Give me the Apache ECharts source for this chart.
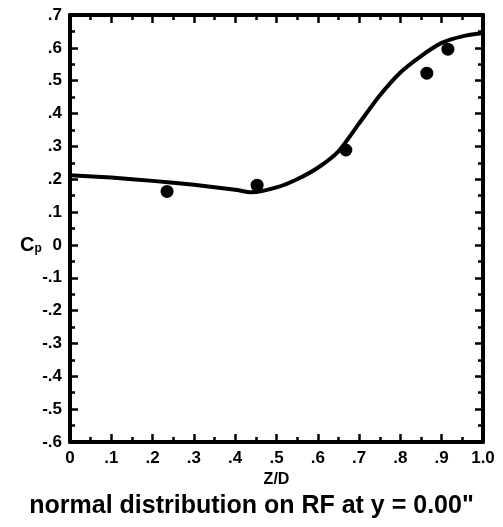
<!DOCTYPE html>
<html>
<head>
<meta charset="utf-8">
<script src="https://cdn.jsdelivr.net/npm/echarts@6/dist/echarts.min.js"></script>
<style>
  html, body { margin: 0; padding: 0; background: #fff; }
  #chart { width: 503px; height: 527px; }
</style>
</head>
<body>
<div id="chart"></div>
<script>
// measured points
var pointX = [0.235, 0.453, 0.668, 0.864, 0.915];
var pointY = [0.163, 0.182, 0.289, 0.523, 0.596];

// predicted curve
var curveX = [0, 0.1, 0.2, 0.3, 0.4, 0.44, 0.5, 0.55, 0.6, 0.65, 0.7, 0.75, 0.8, 0.85, 0.9, 0.95, 1.0];
var curveY = [0.212, 0.205, 0.195, 0.183, 0.168, 0.160, 0.175, 0.200, 0.235, 0.285, 0.37, 0.455, 0.525, 0.575, 0.615, 0.635, 0.645];

var fontFam = '"Liberation Sans", Arial, sans-serif';

function fmtY(v) {
    v = Math.round(v * 10);
    if (v === 0) return '0';
    return (v < 0 ? '-' : '') + '.' + Math.abs(v);
}
function fmtX(v) {
    v = Math.round(v * 10);
    if (v === 0) return '0';
    if (v === 10) return '1.0';
    return '.' + v;
}

var myChart = echarts.init(document.getElementById('chart'));

var axisLine = { show: true, onZero: false, lineStyle: { color: '#000', width: 4 } };
var tick = { show: true, inside: true, length: 8, lineStyle: { color: '#000', width: 2.5 } };
var minor = { show: true, splitNumber: 2, length: 5, lineStyle: { color: '#000', width: 2.5 } };

option = {
    animation: false,
    grid: { left: 70, top: 15, right: 20, bottom: 85 },
    title: {
        text: 'normal distribution on RF at y = 0.00"',
        left: 'center',
        top: 489,
        textStyle: { fontFamily: fontFam, fontSize: 25, fontWeight: 'bold', color: '#000' }
    },
    graphic: [{
        type: 'text',
        left: 20,
        top: 235,
        style: {
            text: '{a|C}{b|p}',
            rich: {
                a: { fontFamily: fontFam, fontSize: 20, fontWeight: 'bold', fill: '#000' },
                b: { fontFamily: fontFam, fontSize: 12, fontWeight: 'bold', fill: '#000', verticalAlign: 'bottom', padding: [8, 0, 0, 0] }
            }
        }
    }],
    xAxis: [{
        type: 'value', min: 0, max: 1, interval: 0.1,
        axisLine: axisLine, axisTick: tick, minorTick: minor,
        splitLine: { show: false },
        axisLabel: { formatter: fmtX, color: '#000', fontFamily: fontFam, fontWeight: 'bold', fontSize: 17, margin: 8 },
        name: 'Z/D', nameLocation: 'middle', nameGap: 30,
        nameTextStyle: { color: '#000', fontFamily: fontFam, fontWeight: 'bold', fontSize: 16 }
    }, {
        type: 'value', min: 0, max: 1, interval: 0.1, position: 'top',
        axisLine: axisLine, axisTick: tick, minorTick: minor,
        splitLine: { show: false }, axisLabel: { show: false }
    }],
    yAxis: [{
        type: 'value', min: -0.6, max: 0.7, interval: 0.1,
        axisLine: axisLine, axisTick: tick, minorTick: minor,
        splitLine: { show: false },
        axisLabel: { formatter: fmtY, color: '#000', fontFamily: fontFam, fontWeight: 'bold', fontSize: 17, margin: 8 }
    }, {
        type: 'value', min: -0.6, max: 0.7, interval: 0.1, position: 'right',
        axisLine: axisLine, axisTick: tick, minorTick: minor,
        splitLine: { show: false }, axisLabel: { show: false }
    }],
    series: [{
        name: 'curve',
        type: 'line',
        data: curveX.map(function (x, i) { return [x, curveY[i]]; }),
        showSymbol: false,
        smooth: 0.25,
        lineStyle: { color: '#000', width: 4 }
    }, {
        name: 'points',
        type: 'scatter',
        data: pointX.map(function (x, i) { return [x, pointY[i]]; }),
        symbolSize: 13,
        itemStyle: { color: '#000', opacity: 1 }
    }]
};

myChart.setOption(option);
</script>
</body>
</html>
